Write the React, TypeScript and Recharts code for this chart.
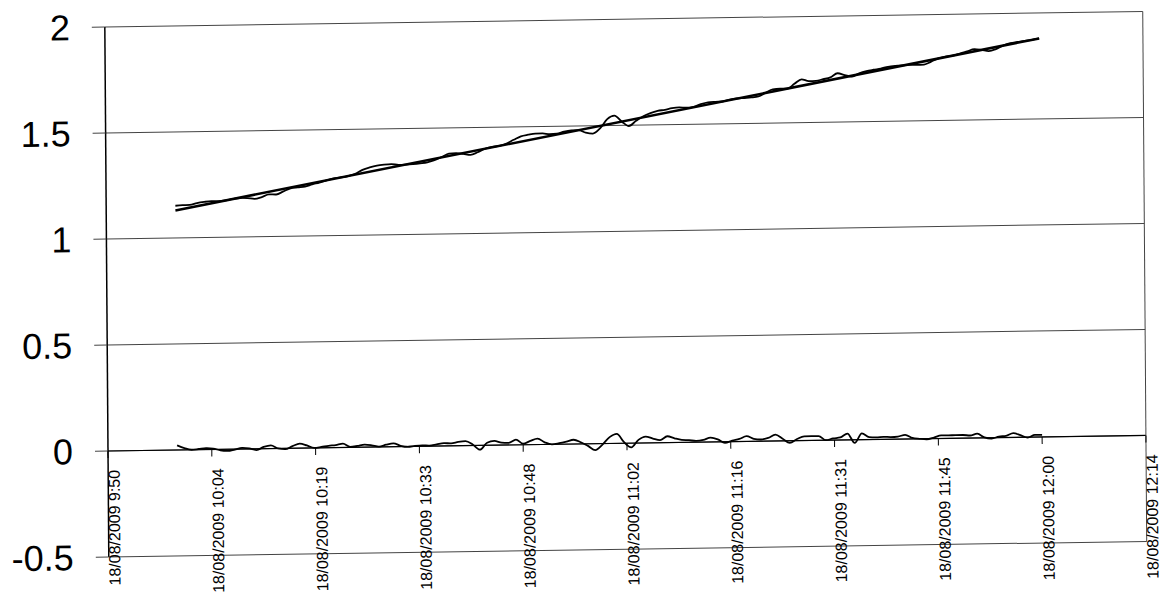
import { CartesianGrid, Line, LineChart, ReferenceLine, XAxis, YAxis } from "recharts";

// readings every minute from 10:00 (600 min after midnight) to 12:00
const START_MINUTE = 600;

const upperReadings = [
  1.152, 1.154, 1.155, 1.163, 1.168, 1.171, 1.171, 1.174, 1.18, 1.184,
  1.183, 1.179, 1.187, 1.199, 1.198, 1.212, 1.226, 1.23, 1.233, 1.243,
  1.251, 1.261, 1.27, 1.274, 1.28, 1.29, 1.308, 1.319, 1.327, 1.331,
  1.333, 1.329, 1.33, 1.332, 1.335, 1.339, 1.349, 1.363, 1.378, 1.38,
  1.376, 1.371, 1.383, 1.399, 1.407, 1.411, 1.422, 1.439, 1.455, 1.462,
  1.467, 1.467, 1.463, 1.465, 1.474, 1.479, 1.48, 1.468, 1.463, 1.487,
  1.53, 1.546, 1.518, 1.496, 1.52, 1.541, 1.555, 1.565, 1.57, 1.577,
  1.58, 1.578, 1.582, 1.594, 1.602, 1.604, 1.605, 1.613, 1.618, 1.62,
  1.622, 1.626, 1.643, 1.659, 1.661, 1.661, 1.683, 1.704, 1.695, 1.696,
  1.703, 1.711, 1.73, 1.721, 1.713, 1.728, 1.738, 1.744, 1.749, 1.757,
  1.761, 1.763, 1.764, 1.764, 1.765, 1.778, 1.793, 1.801, 1.805, 1.814,
  1.824, 1.834, 1.83, 1.824, 1.833, 1.849, 1.86, 1.865, 1.87, 1.874,
  1.88,
];

const lowerReadings = [
  0.022, 0.008, 0.0, 0.003, 0.006, 0.004, -0.005, -0.008, -0.002, 0.005,
  0.002, -0.006, 0.008, 0.015, 0.0, -0.004, 0.01, 0.021, 0.012, 0.0,
  0.004, 0.009, 0.012, 0.018, 0.002, 0.006, 0.012, 0.008, 0.001, 0.01,
  0.016, 0.004, -0.002, 0.002, 0.004, 0.003, 0.008, 0.013, 0.012, 0.018,
  0.021, 0.005, -0.02, 0.012, 0.02, 0.012, 0.01, 0.025, 0.005, 0.018,
  0.028, 0.01, 0.0, 0.005, 0.012, 0.02, 0.008, -0.01, -0.03, -0.005,
  0.03, 0.045, 0.005, -0.02, 0.015, 0.03, 0.02, 0.012, 0.03, 0.02,
  0.012, 0.01, 0.006, 0.01, 0.02, 0.012, -0.005, 0.005, 0.012, 0.025,
  0.012, 0.008, 0.015, 0.03, 0.01, -0.01, 0.008, 0.02, 0.02, 0.02,
  0.0, 0.008, 0.012, 0.03, -0.015, 0.03, 0.012, 0.01, 0.012, 0.01,
  0.012, 0.02, 0.005, 0.0, -0.003, 0.005, 0.015, 0.014, 0.015, 0.015,
  0.012, 0.02, 0.002, -0.004, 0.005, 0.008, 0.02, 0.01, -0.002, 0.01,
  0.01,
];

// straight fit through the upper readings
const trendMinutes = [600, 720];
const trendValues = [1.13, 1.88];

// excel date axis: one tick every 0.01 day (14.4 minutes)
const tickMinutes = [590.4, 604.8, 619.2, 633.6, 648, 662.4, 676.8, 691.2, 705.6, 720, 734.4];
const tickLabels = [
  "18/08/2009 9:50",
  "18/08/2009 10:04",
  "18/08/2009 10:19",
  "18/08/2009 10:33",
  "18/08/2009 10:48",
  "18/08/2009 11:02",
  "18/08/2009 11:16",
  "18/08/2009 11:31",
  "18/08/2009 11:45",
  "18/08/2009 12:00",
  "18/08/2009 12:14",
];
const yTicks = [-0.5, 0, 0.5, 1, 1.5, 2];

const rows = upperReadings.map((upper, i) => ({
  t: START_MINUTE + i,
  upper,
  lower: lowerReadings[i],
}));
const trendRows = trendMinutes.map((t, i) => ({ t, trend: trendValues[i] }));

const W = 1161;
const H = 609;
const TOP = 27;
const X_AXIS_H = 52;
const Y_AXIS_W = 108;
const PLOT_H = H - TOP - X_AXIS_H;
const Y_MIN = -0.5;
const Y_MAX = 2;
const ZERO_Y = TOP + (PLOT_H * Y_MAX) / (Y_MAX - Y_MIN);
const FONT = "'Liberation Sans', Arial, sans-serif";

// date labels hang from the axis at y = 0, not from the plot bottom
const TimeTick = (props: any) => {
  const { x, payload } = props;
  const idx = tickMinutes.indexOf(payload.value);
  return (
    <g>
      <line x1={x} x2={x} y1={ZERO_Y} y2={ZERO_Y + 7} stroke="#000" strokeWidth={1} />
      <text
        transform={`translate(${x + 6},${ZERO_Y + 19}) rotate(-90)`}
        textAnchor="end"
        dominantBaseline="central"
        fontSize={16}
        fontFamily={FONT}
        fill="#000"
      >
        {tickLabels[idx]}
      </text>
    </g>
  );
};

export default function App() {
  return (
    <div
      style={{
        position: "absolute",
        left: 0,
        top: 0,
        background: "#fff",
        transform: "rotate(-0.43deg) skewY(-0.43deg)",
        transformOrigin: "108px 451px",
      }}
    >
      <LineChart width={W} height={H} data={rows} margin={{ top: TOP, right: 15, bottom: 0, left: 0 }}>
        <CartesianGrid vertical={false} stroke="#444" strokeWidth={1} />
        <XAxis
          dataKey="t"
          type="number"
          domain={[tickMinutes[0], tickMinutes[tickMinutes.length - 1]]}
          ticks={tickMinutes}
          interval={0}
          height={X_AXIS_H}
          axisLine={false}
          tickLine={false}
          tick={TimeTick}
          allowDataOverflow
        />
        <YAxis
          type="number"
          domain={[Y_MIN, Y_MAX]}
          ticks={yTicks}
          interval={0}
          width={Y_AXIS_W}
          axisLine={{ stroke: "#000", strokeWidth: 1.5 }}
          tickLine={{ stroke: "#444" }}
          tickSize={13}
          tickMargin={22}
          tick={{ fontSize: 36, fill: "#000", fontFamily: FONT }}
        />
        <ReferenceLine y={0} stroke="#000" strokeWidth={1.2} />
        <ReferenceLine x={tickMinutes[tickMinutes.length - 1]} stroke="#444" strokeWidth={1} />
        <Line
          data={trendRows}
          dataKey="trend"
          type="linear"
          stroke="#000"
          strokeWidth={2.5}
          dot={false}
          isAnimationActive={false}
        />
        <Line
          dataKey="upper"
          type="monotone"
          stroke="#000"
          strokeWidth={1.8}
          dot={false}
          isAnimationActive={false}
        />
        <Line
          dataKey="lower"
          type="monotone"
          stroke="#000"
          strokeWidth={1.8}
          dot={false}
          isAnimationActive={false}
        />
      </LineChart>
    </div>
  );
}
